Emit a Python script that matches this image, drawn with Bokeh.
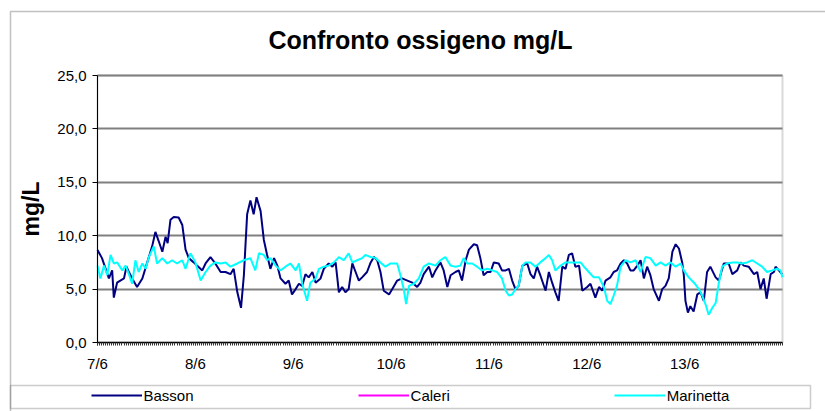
from bokeh.plotting import figure
from bokeh.models import (ColumnDataSource, FixedTicker, Range1d, Legend, LegendItem,
                          BoxAnnotation, Label)
from bokeh.embed import file_html
from bokeh.resources import INLINE

# ---- data (hours since 7/6 00:00, mg/L) ----
day_labels = ["7/6", "8/6", "9/6", "10/6", "11/6", "12/6", "13/6"]
day_hours = [0, 24, 48, 72, 96, 120, 144]
y_ticks = [0, 5, 10, 15, 20, 25]
y_tick_labels = ["0,0", "5,0", "10,0", "15,0", "20,0", "25,0"]

basson_hours = [0, 1.1, 2.0, 2.8, 3.6, 4.0, 4.8, 5.6, 6.5, 7.1, 7.7, 8.5, 9.7, 11.0, 12.2, 13.4,
                14.2, 15.0, 15.9, 16.7, 17.2, 17.9, 18.7, 19.9, 20.8, 21.6, 22.4, 23.6, 24.4, 25.7,
                26.5, 27.7, 28.9, 30.2, 31.4, 32.6, 33.4, 34.3, 35.2, 35.9, 36.7, 37.5, 38.3, 39.0,
                40.0, 40.8, 41.6, 42.4, 43.3, 44.1, 44.9, 46.1, 46.9, 47.7, 48.6, 49.4, 50.2, 51.0,
                51.8, 52.7, 53.5, 54.7, 55.5, 56.7, 57.6, 58.4, 59.2, 60.0, 60.8, 61.6, 62.5, 63.3,
                64.1, 64.9, 66.1, 67.0, 67.8, 68.6, 69.4, 70.2, 71.5, 72.3, 73.5, 74.7, 76.0, 77.2,
                78.4, 79.2, 80.0, 81.3, 82.1, 82.9, 84.1, 84.9, 85.8, 86.6, 87.8, 88.6, 89.4, 90.3,
                91.1, 92.3, 93.1, 93.9, 94.7, 95.6, 96.4, 97.2, 98.4, 99.2, 100.1, 100.9, 101.7,
                102.5, 103.3, 104.2, 105.4, 106.2, 107.0, 107.8, 108.6, 109.9, 110.7, 111.5, 112.3,
                113.1, 114.0, 114.8, 115.6, 116.4, 117.2, 118.1, 118.9, 120.1, 120.9, 122.1, 123.0,
                123.8, 124.6, 125.8, 126.6, 127.4, 128.3, 129.1, 129.9, 130.7, 131.5, 132.4, 133.2,
                134.0, 134.8, 135.6, 136.4, 137.7, 138.5, 139.3, 140.1, 141.0, 141.8, 142.6, 143.4,
                143.8, 144.2, 144.8, 145.4, 146.2, 147.1, 147.9, 148.7, 149.5, 150.3, 151.6, 152.4,
                153.6, 154.8, 155.7, 156.9, 157.7, 158.5, 159.7, 161.0, 161.8, 162.6, 163.4, 164.1,
                165.1, 165.9, 166.3, 167.1, 167.9]
basson_mgl = [8.66, 7.9, 6.9, 6.0, 6.75, 4.2, 5.6, 5.8, 6.0, 7.1, 6.6, 6.0, 5.2, 6.0, 7.5, 9.0,
              10.35, 9.5, 8.5, 9.9, 9.3, 11.5, 11.75, 11.7, 11.0, 8.7, 7.9, 7.5, 7.2, 6.75,
              7.4, 8.0, 7.4, 6.6, 6.6, 6.4, 6.9, 4.7, 3.25, 6.3, 12.0, 13.3, 12.0, 13.6,
              12.3, 9.6, 8.2, 6.9, 7.9, 7.2, 6.0, 5.5, 5.8, 4.5, 5.0, 5.5, 5.3, 6.4,
              6.1, 6.6, 5.6, 6.0, 6.9, 7.4, 7.1, 7.5, 4.7, 5.2, 4.7, 5.0, 7.4, 6.6,
              5.8, 6.1, 6.6, 7.5, 8.0, 7.7, 6.6, 4.85, 4.5, 5.0, 5.8, 6.0, 5.8, 5.6,
              5.2, 5.6, 6.4, 7.1, 6.1, 6.75, 7.5, 6.75, 5.2, 6.3, 6.6, 6.75, 5.8, 7.7,
              8.7, 9.2, 9.1, 7.9, 6.3, 6.6, 6.6, 7.5, 7.4, 6.75, 6.75, 6.9, 5.8,
              5.0, 5.3, 7.2, 7.4, 6.4, 6.0, 7.1, 6.3, 4.85, 6.6, 5.6, 4.7,
              3.9, 7.1, 6.9, 8.2, 8.35, 7.1, 7.2, 4.85, 5.2, 5.5, 4.2, 5.2,
              4.85, 5.8, 6.1, 6.6, 6.75, 7.4, 7.7, 7.4, 6.75, 6.75, 7.2, 7.7,
              6.0, 7.1, 6.3, 5.0, 3.9, 5.0, 5.3, 6.0, 8.5, 9.2, 8.8, 7.5,
              6.3, 3.9, 2.8, 3.4, 2.9, 4.5, 4.7, 3.9, 6.6, 7.1, 6.1, 5.8,
              7.4, 7.4, 6.4, 6.75, 7.5, 7.2, 7.1, 6.4, 6.6, 5.0, 6.0, 4.1,
              6.4, 6.6, 7.1, 6.75, 6.4]

# Caleri appears only in the legend: no values drawn in the chart
caleri_hours = []
caleri_mgl = []

marinetta_hours = [0, 0.7, 1.6, 2.4, 3.2, 4.0, 4.8, 6.1, 6.9, 7.7, 8.5, 9.3, 10.1, 11.0, 11.8, 12.6,
                   13.8, 14.6, 15.9, 17.1, 18.3, 19.5, 20.8, 21.6, 22.8, 24.0, 25.3, 26.5, 27.7,
                   28.9, 30.2, 31.4, 32.6, 34.3, 35.9, 37.5, 38.7, 39.6, 40.8, 41.6, 42.4, 43.7,
                   44.9, 46.1, 47.3, 48.6, 49.4, 50.2, 51.4, 52.2, 53.5, 54.3, 55.5, 56.7, 58.0,
                   59.2, 60.4, 61.6, 62.5, 63.7, 64.9, 65.7, 67.0, 68.2, 69.4, 70.6, 71.9, 73.5,
                   74.3, 75.1, 75.7, 76.4, 77.6, 78.8, 80.0, 81.3, 82.9, 84.1, 85.3, 86.6, 87.8,
                   89.0, 89.8, 90.7, 91.9, 93.1, 94.3, 95.6, 96.8, 98.0, 99.2, 100.1, 100.9, 101.7,
                   102.5, 103.3, 104.2, 105.0, 106.2, 107.4, 108.6, 109.9, 110.7, 111.5, 112.3,
                   113.6, 114.8, 116.0, 117.2, 118.5, 119.3, 120.5, 121.7, 123.0, 124.2, 125.0,
                   125.8, 126.6, 127.4, 128.3, 129.5, 130.7, 132.0, 133.2, 134.4, 135.6, 136.9,
                   138.1, 139.3, 140.5, 141.8, 143.0, 143.8, 145.0, 146.3, 147.5, 148.3, 149.1,
                   149.9, 150.8, 151.6, 152.4, 153.2, 154.4, 155.7, 156.9, 158.1, 159.3, 160.6,
                   161.8, 163.0, 164.2, 165.5, 166.7, 167.5, 168.0]
marinetta_mgl = [7.2, 6.0, 7.2, 6.3, 8.2, 7.4, 7.5, 6.75, 7.2, 6.4, 5.5, 7.7, 6.6, 7.4, 6.9, 8.0,
                 9.0, 7.4, 7.9, 7.4, 7.7, 7.4, 7.7, 6.9, 8.35, 7.5, 5.8, 6.6, 7.2,
                 7.5, 7.4, 7.5, 7.1, 7.4, 7.7, 7.9, 6.75, 8.35, 8.2, 7.7, 7.9, 7.2,
                 6.75, 7.1, 7.4, 6.75, 7.4, 5.5, 3.9, 5.6, 6.0, 6.9, 7.1, 7.2, 7.5,
                 8.0, 7.7, 8.35, 7.5, 7.7, 7.9, 8.2, 8.0, 7.9, 7.5, 7.1, 7.4, 7.4,
                 6.3, 5.0, 3.6, 5.3, 5.5, 6.0, 7.1, 7.4, 7.2, 7.7, 8.0, 7.2, 7.1,
                 7.2, 7.9, 7.4, 7.4, 7.1, 6.75, 6.9, 6.75, 6.6, 6.0, 4.85, 4.4, 4.5,
                 5.0, 5.3, 7.2, 7.5, 7.5, 7.1, 7.5, 7.9, 8.2, 7.7, 6.75,
                 7.2, 7.5, 7.5, 7.5, 7.5, 7.1, 6.6, 6.1, 6.1, 5.2, 3.9,
                 3.6, 4.4, 5.3, 7.1, 7.7, 7.5, 7.7, 6.6, 8.0, 7.9, 7.2,
                 7.5, 7.2, 7.5, 7.1, 7.4, 6.75, 6.1, 5.6, 5.0, 4.4, 3.6,
                 2.6, 3.25, 3.7, 5.6, 7.1, 7.4, 7.5, 7.5, 7.4, 7.5, 7.7,
                 7.4, 7.1, 6.6, 6.75, 6.9, 6.75, 6.1]

x_start, x_end = 0, 168
y_start, y_end = 0, 25

FONT = "Liberation Sans"

# The frame covers the whole canvas; the plot area (0..168 h, 0..25 mg/L)
# sits at canvas x 97..782, y 75..342.
PX_PER_H = 685 / 168.0
PX_PER_U = 267 / 25.0
p = figure(width=825, height=411, output_backend="svg", toolbar_location=None,
           x_range=Range1d(x_start - 97 / PX_PER_H, x_end + 43 / PX_PER_H),
           y_range=Range1d(y_start - 69 / PX_PER_U, y_end + 75 / PX_PER_U),
           min_border=0, min_border_left=0, min_border_right=0,
           min_border_top=0, min_border_bottom=0,
           background_fill_color="white", border_fill_color="white")
p.outline_line_color = None

# axes fixed at the plot-area edges
p.xaxis.fixed_location = y_start
p.yaxis.fixed_location = x_start
p.xaxis.bounds = (x_start, x_end)
p.yaxis.bounds = (y_start, y_end)

p.xaxis.ticker = FixedTicker(ticks=day_hours, minor_ticks=[h * 0.5 for h in range(0, 337)])
p.xaxis.major_label_overrides = dict(zip(day_hours, day_labels))
p.xaxis.major_tick_out = 3
p.xaxis.major_tick_in = 0
p.xaxis.minor_tick_out = 3
p.xaxis.minor_tick_in = 0
p.xaxis.minor_tick_line_color = "#333333"
p.xaxis.major_tick_line_color = "#333333"
p.xaxis.axis_line_color = "black"
p.xaxis.major_label_text_font = FONT
p.xaxis.major_label_text_font_size = "15px"
p.xaxis.major_label_text_color = "black"
p.xaxis.major_label_standoff = 9

p.yaxis.ticker = FixedTicker(ticks=y_ticks)
p.yaxis.major_label_overrides = dict(zip(y_ticks, y_tick_labels))
p.yaxis.major_tick_out = 5
p.yaxis.major_tick_in = 0
p.yaxis.minor_tick_line_color = None
p.yaxis.axis_line_color = "black"
p.yaxis.major_label_text_font = FONT
p.yaxis.major_label_text_font_size = "15px"
p.yaxis.major_label_text_color = "black"
p.yaxis.major_label_standoff = 6
p.yaxis.axis_label = "mg/L"
p.yaxis.axis_label_text_font = FONT
p.yaxis.axis_label_text_font_size = "23px"
p.yaxis.axis_label_text_font_style = "bold"
p.yaxis.axis_label_text_color = "black"
p.yaxis.axis_label_standoff = 10

p.xgrid.grid_line_color = None
p.ygrid.ticker = FixedTicker(ticks=y_ticks)
grid = p.ygrid[0]
if "cross_bounds" in grid.properties():
    grid.cross_bounds = (x_start, x_end)
    p.ygrid.grid_line_color = "#808080"
    p.ygrid.grid_line_width = 2
else:
    p.ygrid.grid_line_color = None
    p.segment(x0=[x_start] * len(y_ticks), x1=[x_end] * len(y_ticks), y0=y_ticks, y1=y_ticks,
              line_color="#808080", line_width=2, level="underlay")

# plot-area border (grey), under the data and axes
p.add_layout(BoxAnnotation(left=x_start, right=x_end, bottom=y_start, top=y_end,
                           fill_alpha=0, line_color="#808080", line_width=2,
                           level="underlay"))

# series
src_b = ColumnDataSource(dict(x=basson_hours, y=basson_mgl))
src_c = ColumnDataSource(dict(x=caleri_hours or [x_start], y=caleri_mgl or [float("nan")]))
src_m = ColumnDataSource(dict(x=marinetta_hours, y=marinetta_mgl))
r_b = p.line("x", "y", source=src_b, line_color="#000080", line_width=2)
r_c = p.line("x", "y", source=src_c, line_color="#FF00FF", line_width=2)
r_m = p.line("x", "y", source=src_m, line_color="#00FFFF", line_width=2)

# title
p.add_layout(Label(x=420, y=372, x_units="screen", y_units="screen",
                   text="Confronto ossigeno mg/L", text_align="center", text_baseline="middle",
                   text_font=FONT, text_font_size="25px", text_font_style="bold",
                   text_color="black"))

# outer chart border and legend box (screen units: from canvas bottom-left)
p.add_layout(BoxAnnotation(left=10, right=900, top=400, bottom=-50,
                           left_units="screen", right_units="screen",
                           top_units="screen", bottom_units="screen",
                           fill_alpha=0, line_color="#333333", line_width=1.5))
p.add_layout(BoxAnnotation(left=10, right=810, top=26, bottom=3,
                           left_units="screen", right_units="screen",
                           top_units="screen", bottom_units="screen",
                           fill_alpha=0, line_color="#555555", line_width=1.5))

legend = Legend(items=[LegendItem(label="Basson", renderers=[r_b]),
                       LegendItem(label="Caleri", renderers=[r_c]),
                       LegendItem(label="Marinetta", renderers=[r_m])],
                location=(90.5, 7), orientation="horizontal",
                glyph_width=51, glyph_height=18, label_height=18, label_standoff=2,
                padding=0, margin=0, spacing=164,
                border_line_alpha=0, background_fill_alpha=0,
                label_text_font=FONT, label_text_font_size="15px", label_text_color="black")
p.add_layout(legend, "center")

open("out.html", "w").write(file_html(p, INLINE))
